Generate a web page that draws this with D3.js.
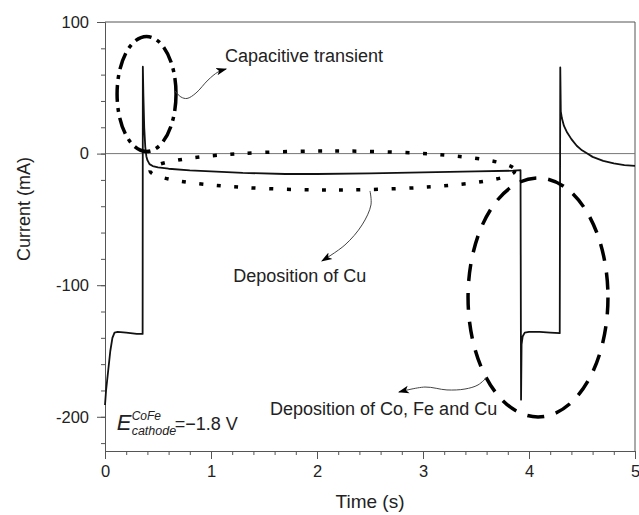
<!DOCTYPE html>
<html>
<head>
<meta charset="utf-8">
<script src="https://cdn.jsdelivr.net/npm/d3@7"></script>
<style>
body { margin: 0; background: #fff; }
svg text { font-family: "Liberation Sans", Arial, sans-serif; fill: #222; }
</style>
</head>
<body>
<svg id="chart" width="639" height="515"></svg>
<script>
// chronoamperometry trace
const timeS = [0, 0.01, 0.03, 0.05, 0.07, 0.09, 0.12, 0.2, 0.3, 0.355,
  0.357, 0.362, 0.37, 0.38, 0.39, 0.40, 0.42, 0.45, 0.5, 0.6, 0.8, 1.0,
  1.3, 1.7, 2.0, 2.5, 3.0, 3.5, 3.85, 3.92,
  3.925, 3.93, 3.94, 3.96, 4.0, 4.1, 4.2, 4.29,
  4.295, 4.30, 4.31, 4.33, 4.36, 4.40, 4.45, 4.5, 4.55, 4.6, 4.7, 4.8, 4.9, 5.0];
const currentMA = [-191, -180, -165, -150, -140, -136, -135.5, -136, -137, -137,
  66, 45, 20, 5, -2, -5, -8, -9.5, -10.5, -11.5, -12.7, -13.5,
  -14.7, -15.5, -15.5, -15, -14.3, -13.5, -13, -12.5,
  -187, -145, -139, -136, -135.5, -135.5, -136, -136.5,
  65.5, 32, 27, 21, 16, 11, 6, 2.5, 0, -2.5, -5.5, -7.5, -8.7, -9.4];

const xTicks = [0, 1, 2, 3, 4, 5];
const yTicks = [-200, -100, 0, 100];
const xLabel = 'Time (s)';
const yLabel = 'Current (mA)';

// annotation texts (anchor in data units)
const notes = [
  { text: 'Capacitive transient', t: 1.132, i: 69.8 },
  { text: 'Deposition of Cu', t: 1.21, i: -97.3 },
  { text: 'Deposition of Co, Fe and Cu', t: 1.557, i: -198.6 }
];

// ellipses: centre and radii in data units
const rings = [
  { t: 0.392, i: 45.3, rt: 0.278, ri: 43.7, dash: '17,6,4,6' },
  { t: 2.146, i: -12.8, rt: 1.722, ri: 14.8, dash: '4,13.5' },
  { t: 4.085, i: -109.3, rt: 0.66, ri: 90.8, dash: '17,12' }
];

// curved pointers, data units
const pointers = [
  [[0.660, 47.6], [0.717, 43.0], [0.774, 41.9], [0.858, 46.0], [0.972, 55.9], [1.066, 62.0], [1.142, 64.3]],
  [[2.5, -28.4], [2.509, -39.0], [2.425, -54.2], [2.264, -69.4], [2.047, -81.5]],
  [[3.604, -169.8], [3.519, -175.8], [3.396, -178.9], [3.226, -179.6], [3.019, -177.4], [2.774, -181.2]]
];

const W = 639, H = 515;
const mLeft = 105, mRight = 635, mTop = 22, mBottom = 451;

const svg = d3.select('#chart');

const x = d3.scaleLinear().domain([0, 5]).range([mLeft, mRight]);
const y = d3.scaleLinear().domain([-226, 100]).range([mBottom, mTop]);

// frame top / right
svg.append('line')
  .attr('x1', mLeft).attr('x2', mRight).attr('y1', y(100)).attr('y2', y(100))
  .attr('stroke', '#555').attr('stroke-width', 1);
svg.append('line')
  .attr('x1', mRight).attr('x2', mRight).attr('y1', mTop).attr('y2', mBottom)
  .attr('stroke', '#555').attr('stroke-width', 1);

// zero line
svg.append('line')
  .attr('x1', mLeft).attr('x2', mRight).attr('y1', y(0)).attr('y2', y(0))
  .attr('stroke', '#777').attr('stroke-width', 1);

// minor ticks
svg.append('g')
  .attr('transform', 'translate(0,' + mBottom + ')')
  .call(d3.axisBottom(x).tickValues(d3.range(0, 5.001, 0.2)).tickSize(4).tickSizeOuter(0).tickFormat(''))
  .call(g => g.selectAll('line,path').attr('stroke', '#555'));
svg.append('g')
  .attr('transform', 'translate(' + mLeft + ',0)')
  .call(d3.axisLeft(y).tickValues(d3.range(-220, 101, 20)).tickSize(4).tickSizeOuter(0).tickFormat(''))
  .call(g => g.selectAll('line,path').attr('stroke', '#555'));

// major ticks + labels
const xAxis = svg.append('g')
  .attr('transform', 'translate(0,' + mBottom + ')')
  .call(d3.axisBottom(x).tickValues(xTicks).tickSize(8).tickSizeOuter(0).tickPadding(6).tickFormat(d => String(d)));
const yAxis = svg.append('g')
  .attr('transform', 'translate(' + mLeft + ',0)')
  .call(d3.axisLeft(y).tickValues(yTicks).tickSize(8).tickSizeOuter(0).tickPadding(8).tickFormat(d => String(d)));

[xAxis, yAxis].forEach(a => {
  a.selectAll('line,path').attr('stroke', '#555');
  a.selectAll('text').attr('font-size', 16.5).attr('fill', '#222')
    .style('font-family', '"Liberation Sans", Arial, sans-serif');
});

svg.append('text')
  .attr('x', (mLeft + mRight) / 2).attr('y', 508)
  .attr('text-anchor', 'middle').attr('font-size', 19)
  .text(xLabel);
svg.append('text')
  .attr('transform', 'translate(30,' + 209 + ') rotate(-90)')
  .attr('text-anchor', 'middle').attr('font-size', 18)
  .text(yLabel);

// data trace
const line = d3.line().x((d, i) => x(timeS[i])).y(d => y(d));
svg.append('path')
  .datum(currentMA)
  .attr('d', line)
  .attr('fill', 'none')
  .attr('stroke', '#111')
  .attr('stroke-width', 1.8)
  .attr('stroke-linejoin', 'round');

// ellipses
svg.selectAll('ellipse.ring')
  .data(rings)
  .enter()
  .append('ellipse')
  .attr('class', 'ring')
  .attr('cx', d => x(d.t))
  .attr('cy', d => y(d.i))
  .attr('rx', d => x(d.rt) - x(0))
  .attr('ry', d => y(0) - y(d.ri))
  .attr('fill', 'none')
  .attr('stroke', '#000')
  .attr('stroke-width', 3.5)
  .attr('stroke-dasharray', d => d.dash);

// arrow head
svg.append('defs').append('marker')
  .attr('id', 'head')
  .attr('viewBox', '0 0 10 10')
  .attr('refX', 9).attr('refY', 5)
  .attr('markerWidth', 11).attr('markerHeight', 11)
  .attr('markerUnits', 'userSpaceOnUse')
  .attr('orient', 'auto')
  .append('path')
  .attr('d', 'M0,1.5 L10,5 L0,8.5 L2.5,5 Z')
  .attr('fill', '#000');

const pLine = d3.line().x(d => x(d[0])).y(d => y(d[1])).curve(d3.curveCatmullRom);
svg.selectAll('path.pointer')
  .data(pointers)
  .enter()
  .append('path')
  .attr('class', 'pointer')
  .attr('d', pLine)
  .attr('fill', 'none')
  .attr('stroke', '#444')
  .attr('stroke-width', 1)
  .attr('marker-end', 'url(#head)');

svg.selectAll('text.note')
  .data(notes)
  .enter()
  .append('text')
  .attr('class', 'note')
  .attr('x', d => x(d.t))
  .attr('y', d => y(d.i))
  .attr('font-size', 18)
  .text(d => d.text);

// E label
const ex = x(0.11), ey = y(-210);
const eLab = svg.append('g').attr('transform', 'translate(' + ex + ',' + ey + ')');
eLab.append('text').attr('x', 0).attr('y', 0)
  .attr('font-size', 22).attr('font-style', 'italic').text('E');
eLab.append('text').attr('x', 15).attr('y', -10)
  .attr('font-size', 12).attr('font-style', 'italic').text('CoFe');
eLab.append('text').attr('x', 15).attr('y', 5)
  .attr('font-size', 12.5).attr('font-style', 'italic').text('cathode');
eLab.append('text').attr('x', 58).attr('y', 0)
  .attr('font-size', 18).text('=\u22121.8 V');
</script>
</body>
</html>
